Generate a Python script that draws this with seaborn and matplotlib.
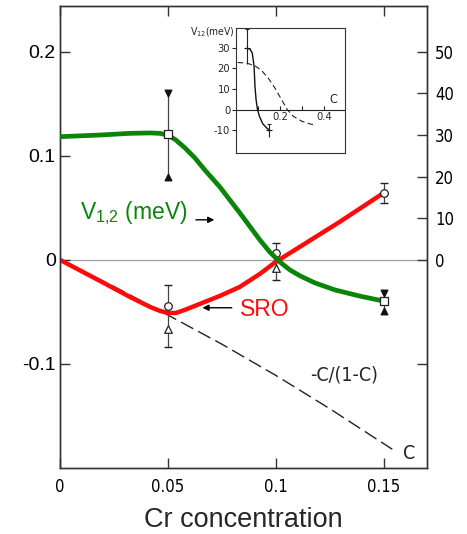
import matplotlib
matplotlib.use("Agg")
import matplotlib.pyplot as plt
import seaborn as sns

# ---------------- data ----------------
# SRO curve (left axis)
sro_x = [0, 0.0185, 0.0324, 0.0417, 0.0463, 0.05, 0.0537, 0.0579, 0.0648,
         0.0741, 0.0833, 0.0926, 0.1, 0.1111, 0.1296, 0.15]
sro_y = [0, -0.0202, -0.0356, -0.0452, -0.049, -0.051, -0.051, -0.048, -0.0423,
         -0.0346, -0.026, -0.0135, -0.0019, 0.0125, 0.0365, 0.0644]
# V_1,2 curve (right axis, meV)
v12_x = [0, 0.0185, 0.0324, 0.0417, 0.0463, 0.05, 0.0537, 0.0579, 0.0625, 0.0671,
         0.0741, 0.0833, 0.0926, 0.0972, 0.1019, 0.1065, 0.1111, 0.118, 0.1273,
         0.1389, 0.15]
v12_y = [29.6, 30.0, 30.4, 30.5, 30.4, 30.0, 28.8, 26.9, 24.5, 21.6,
         17.5, 11.3, 4.8, 1.9, -0.5, -2.4, -3.8, -5.5, -7.2,
         -8.7, -9.9]
# -C/(1-C) dashed curve
lin_x = [0, 0.025, 0.05, 0.075, 0.1, 0.125, 0.154]
lin_y = [0, -0.0256, -0.053, -0.081, -0.111, -0.143, -0.182]
# measured SRO points (circles) with error bars, and triangles
circ_x = [0.05, 0.1, 0.15]
circ_y = [-0.044, 0.007, 0.064]
circ_lo = [-0.084, -0.019, 0.055]
circ_hi = [-0.024, 0.016, 0.074]
tri_x = [0.05, 0.1]
tri_y = [-0.066, -0.008]
# V12 points (squares) with error bars, meV
sq_x = [0.05, 0.15]
sq_y = [30.3, -9.9]
sq_lo = [20.0, -12.3]
sq_hi = [40.1, -7.9]
# inset curves
ins_sol_x = [0.05, 0.065, 0.075, 0.083, 0.087, 0.092, 0.098, 0.107, 0.122, 0.14, 0.15]
ins_sol_y = [29.8, 29.4, 27.4, 21, 11.3, 4.8, 0.3, -3.2, -6.8, -8.9, -9.7]
ins_dash_x = [0.009, 0.05, 0.087, 0.117, 0.147, 0.177, 0.2075, 0.233, 0.26,
              0.298, 0.335, 0.358]
ins_dash_y = [22.9, 22.6, 21.3, 19.0, 15.3, 10.5, 4.8, 0, -3.2, -5.6, -6.9, -7.4]
ins_err_x = [0.05, 0.15]
ins_err_lo = [22, -13]
ins_err_hi = [39, -6.8]

x_ticks = [0, 0.05, 0.1, 0.15]
x_ticklabels = ["0", "0.05", "0.1", "0.15"]
yl_ticks = [-0.1, 0, 0.1, 0.2]
yl_ticklabels = ["-0.1", "0", "0.1", "0.2"]
yr_ticks = [-25, 0, 10, 20, 30, 40, 50]
yr_ticklabels = ["", "0", "10", "20", "30", "40", "50"]
ins_yticks = [-10, 0, 10, 20, 30]
ins_xticks = [0.1, 0.2, 0.3, 0.4]
ins_xlabels = {0.2: "0.2", 0.4: "0.4"}

# ---------------- style ----------------
sns.set_style("ticks")
plt.rcParams["font.family"] = ["DejaVu Sans"]
plt.rcParams["mathtext.fontset"] = "custom"
plt.rcParams["mathtext.rm"] = "Liberation Sans"
plt.rcParams["mathtext.default"] = "regular"

GREEN = "#0a850a"
RED = "#ff0a0a"
SPINE = "#333333"
ISO = dict(family="DejaVu Sans", stretch="condensed")

fig = plt.figure(figsize=(4.67, 5.34), dpi=100)
ax = fig.add_axes([0.1285, 0.1236, 0.7855, 0.8652])
ax.set_xlim(0, 0.17)
ax.set_ylim(-0.2, 0.244)
ax2 = ax.twinx()
ax2.set_ylim(-50, 61)

for a in (ax, ax2):
    for s in a.spines.values():
        s.set_color(SPINE)
        s.set_linewidth(1.0)

ax.axhline(0, color="#a0a0a0", lw=0.9, zorder=0)

# dashed -C/(1-C)
sns.lineplot(x=lin_x, y=lin_y, ax=ax, color="#222222", lw=1.0,
             linestyle=(0, (10, 4)), sort=False, estimator=None)
# SRO curve
sns.lineplot(x=sro_x, y=sro_y, ax=ax, color=RED, lw=3.2, sort=False,
             estimator=None, zorder=4)

# SRO error bars and markers
ax.vlines(circ_x, circ_lo, circ_hi, color="#444444", lw=0.9, zorder=3)
ax.scatter(circ_x, circ_lo, marker="_", s=40, color="#222222", lw=1.0, zorder=3)
ax.scatter(circ_x, circ_hi, marker="_", s=40, color="#222222", lw=1.0, zorder=3)
ax.scatter(circ_x, circ_y, marker="o", s=30, facecolor="white",
           edgecolor="#222222", lw=0.9, zorder=5)
ax.scatter(tri_x, tri_y, marker="^", s=30, facecolor="white",
           edgecolor="#222222", lw=0.9, zorder=5)

# V12 curve (right axis)
sns.lineplot(x=v12_x, y=v12_y, ax=ax2, color=GREEN, lw=3.4, sort=False,
             estimator=None, zorder=3)
ax2.vlines(sq_x, sq_lo, sq_hi, color="#444444", lw=0.9, zorder=2)
ax2.scatter(sq_x, sq_hi, marker="v", s=22, color="#111111", zorder=4)
ax2.scatter(sq_x, sq_lo, marker="^", s=22, color="#111111", zorder=4)
ax2.scatter(sq_x, sq_y, marker="s", s=28, facecolor="white",
            edgecolor="#222222", lw=0.9, zorder=5)

# ticks
ax.set_xticks(x_ticks)
ax.set_xticklabels(x_ticklabels, fontsize=12, **ISO)
ax.tick_params(axis="x", direction="in", length=7, width=1, top=True,
               labeltop=False, pad=7, colors=SPINE, labelcolor="black")
ax.set_yticks(yl_ticks)
ax.set_yticklabels(yl_ticklabels, fontsize=14, family="Liberation Sans")
ax.tick_params(axis="y", direction="in", length=7, width=1, left=True,
               right=False, pad=3, colors=SPINE, labelcolor="black")
ax2.set_yticks(yr_ticks)
ax2.set_yticklabels(yr_ticklabels, fontsize=12, **ISO)
ax2.tick_params(axis="y", direction="in", length=7, width=1, pad=6,
                colors=SPINE, labelcolor="black")
ax2.set_ylabel("")
ax.set_xlabel("")
ax.set_ylabel("")

# labels and arrows
ax.text(0.0093, 0.045, r"V$_{1{,}2}$ (meV)", color=GREEN, fontsize=16.5,
        family="Liberation Sans", ha="left", va="center")
ax.annotate("", xy=(0.0715, 0.0385), xytext=(0.063, 0.0385),
            arrowprops=dict(arrowstyle="-|>", color="black", lw=1.0,
                            mutation_scale=9, shrinkA=0, shrinkB=0))
ax.text(0.0835, -0.048, "SRO", color=RED, fontsize=16.5,
        family="Liberation Sans", ha="left", va="center")
ax.annotate("", xy=(0.066, -0.046), xytext=(0.0796, -0.046),
            arrowprops=dict(arrowstyle="-|>", color="black", lw=1.0,
                            mutation_scale=9, shrinkA=0, shrinkB=0))
ax.text(0.1315, -0.1106, "-C/(1-C)", fontsize=14, ha="center", va="center", **ISO)
ax.text(0.162, -0.1856, "C", fontsize=14, ha="center", va="center", **ISO)

fig.text(0.522, 0.026, "Cr concentration", fontsize=19.5,
         family="Liberation Sans", ha="center", va="center")

# ---------------- inset ----------------
ai = fig.add_axes([0.5047, 0.7135, 0.234, 0.2335])
ai.set_facecolor("white")
ai.set_xlim(0, 0.493)
ai.set_ylim(-21, 39.5)
for s in ai.spines.values():
    s.set_color("#333333")
    s.set_linewidth(0.8)
ai.axhline(0, color="#222222", lw=0.8)
ai.vlines(ins_xticks, 0, 1.8, color="#222222", lw=0.8)
for xv, lab in ins_xlabels.items():
    ai.text(xv, -1.2, lab, fontsize=8, ha="center", va="top", **ISO)
ai.text(0.44, 5.0, "C", fontsize=9, ha="center", va="center", **ISO)
sns.lineplot(x=ins_dash_x, y=ins_dash_y, ax=ai, color="#222222", lw=0.8,
             linestyle=(0, (5, 3)), sort=False, estimator=None)
sns.lineplot(x=ins_sol_x, y=ins_sol_y, ax=ai, color="#111111", lw=1.0,
             sort=False, estimator=None)
ai.vlines(ins_err_x, ins_err_lo, ins_err_hi, color="#222222", lw=0.8)
ai.scatter(ins_err_x, ins_err_hi, marker="_", s=12, color="#222222", lw=0.8)
ai.scatter(ins_sol_x[:1] + ins_sol_x[-1:], ins_sol_y[:1] + ins_sol_y[-1:],
           marker="+", s=14, color="#111111", lw=0.8)
ai.set_xticks([])
ai.set_yticks(ins_yticks)
ai.set_yticklabels([str(v) for v in ins_yticks], fontsize=8, **ISO)
ai.tick_params(axis="y", direction="out", length=3, width=0.8, pad=1)
ai.set_xlabel("")
ai.set_ylabel("")
ai.text(-0.005, 0.965, r"V$_{12}$(meV)", transform=ai.transAxes, fontsize=7.5,
        ha="right", va="center", **ISO)

fig.savefig("out.png", dpi=100)
